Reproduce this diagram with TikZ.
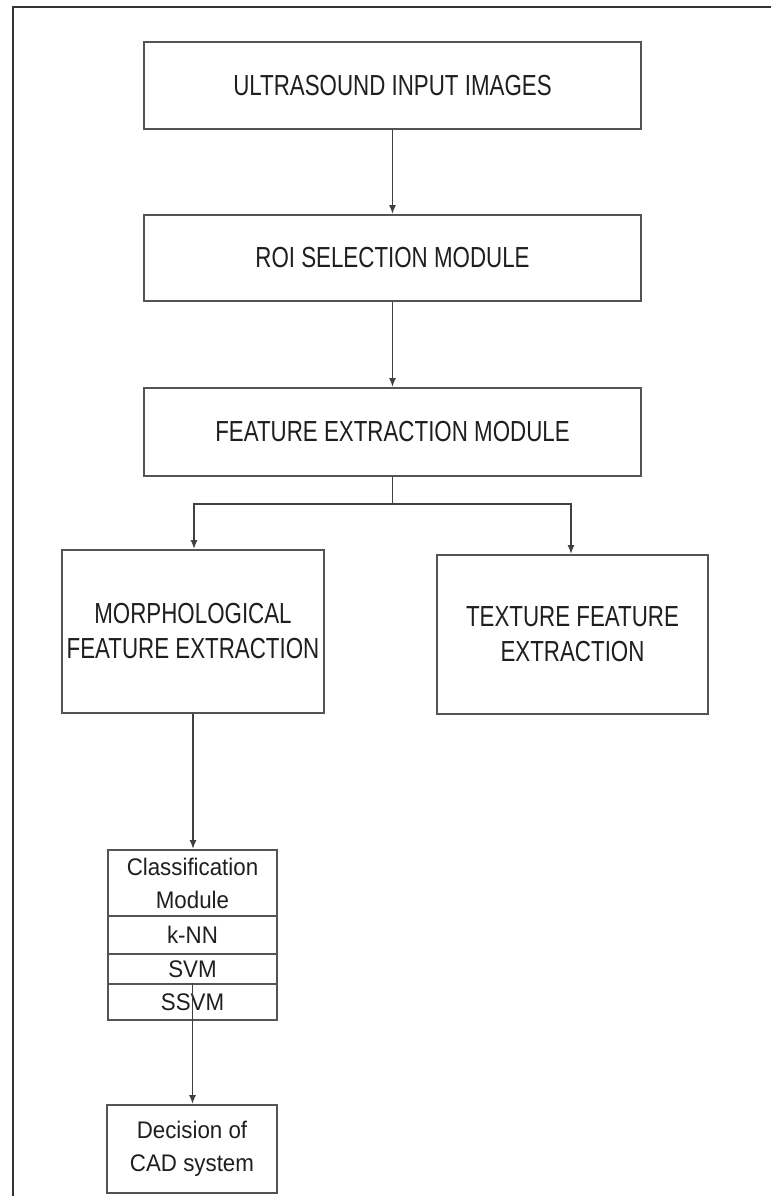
\documentclass[tikz,border=0pt]{standalone}
\usepackage{fontspec}
\newfontfamily\capfont[FakeStretch=0.77]{Liberation Sans}
\newfontfamily\smallfont[FakeStretch=0.93]{Liberation Sans}
\usetikzlibrary{arrows.meta}
\definecolor{boxline}{gray}{0.33}
\definecolor{txt}{gray}{0.12}
\tikzset{
  bigbox/.style={draw=boxline, line width=1.9pt, rectangle, inner sep=0pt, align=center,
     text=txt, font=\capfont\fontsize{29}{35}\selectfont},
  smallbox/.style={draw=boxline, line width=1.9pt, rectangle, inner sep=0pt, align=center,
     text=txt, font=\smallfont\fontsize{24}{33}\selectfont, minimum width=169pt},
  conn/.style={draw=black!75, line width=1.5pt},
  arrowconn/.style={conn, -{Latex[length=9pt,width=7pt]}},
}
\begin{document}
\begin{tikzpicture}[x=1pt,y=-1pt]
\useasboundingbox (0,0) rectangle (771,1196);
\fill[white] (0,0) rectangle (771,1196);
% outer frame (cropped: only left and top visible)
\draw[black!80, line width=2.4pt] (13,1196) -- (13,7) -- (771,7);

\node[bigbox, minimum width=497pt, minimum height=87pt] (b1) at (392.5,85.5) {ULTRASOUND INPUT IMAGES};
\node[bigbox, minimum width=497pt, minimum height=86pt] (b2) at (392.5,258) {ROI SELECTION MODULE};
\node[bigbox, minimum width=497pt, minimum height=88pt] (b3) at (392.5,432) {FEATURE EXTRACTION MODULE};
\node[bigbox, minimum width=262pt, minimum height=163pt] (morph) at (193,631.5) {MORPHOLOGICAL\\FEATURE EXTRACTION};
\node[bigbox, minimum width=271pt, minimum height=159pt] (tex) at (572.5,634.5) {TEXTURE FEATURE\\EXTRACTION};

\node[smallbox, minimum height=66pt] (cls) at (192.5,883) {Classification\\Module};
\node[smallbox, minimum height=38pt] (knn) at (192.5,935) {k-NN};
\node[smallbox, minimum height=30pt] (svm) at (192.5,969) {SVM};
\node[smallbox, minimum height=36pt] (ssvm) at (192.5,1002) {SSVM};
\node[smallbox, minimum width=170pt, minimum height=88pt] (dec) at (192,1149) {Decision of\\CAD system};

\coordinate (j) at ([yshift=-27pt]b3.south);
\draw[arrowconn] (b1.south) -- (b2.north);
\draw[arrowconn] (b2.south) -- (b3.north);
\draw[conn] (b3.south) -- (j);
\draw[arrowconn] (j) -| ([xshift=1pt]morph.north);
\draw[arrowconn] (j) -| ([xshift=-1.5pt]tex.north);
\draw[arrowconn] (morph.south) -- (morph.south |- cls.north);
\draw[arrowconn] (ssvm.north) -- (ssvm.north |- dec.north);
\end{tikzpicture}
\end{document}
